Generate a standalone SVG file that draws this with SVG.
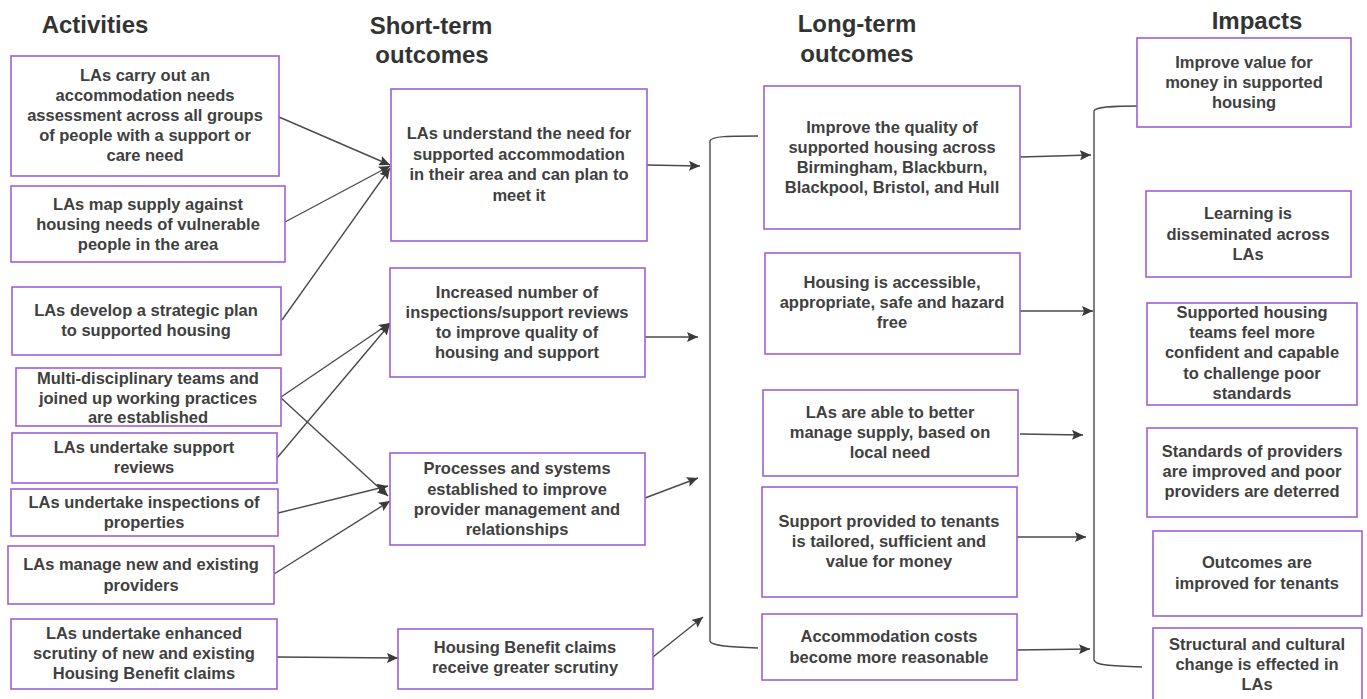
<svg xmlns="http://www.w3.org/2000/svg" width="1367" height="699" viewBox="0 0 1367 699">
<defs>
<marker id="ah" markerUnits="userSpaceOnUse" markerWidth="12" markerHeight="10" refX="11" refY="5" orient="auto">
<path d="M0,0 L11,5 L0,10 L2,5 Z" fill="#3a3a3a"/>
</marker>
<style>
.box{fill:#ffffff;stroke:#9e5fd8;stroke-width:1.6}
.t{font-family:"Liberation Sans",Arial,sans-serif;font-weight:bold;font-size:16.5px;fill:#404040;text-anchor:middle}
.h{font-family:"Liberation Sans",Arial,sans-serif;font-weight:bold;font-size:24px;fill:#333333;text-anchor:middle}
.c{fill:none;stroke:#4a4a4a;stroke-width:1.4}
.a{marker-end:url(#ah)}
</style>
</defs>
<rect width="1367" height="699" fill="#ffffff"/>

<g id="headings">
<text class="h" x="95" y="33">Activities</text>
<text class="h" x="431" y="34">Short-term</text>
<text class="h" x="432" y="63">outcomes</text>
<text class="h" x="857" y="32">Long-term</text>
<text class="h" x="857" y="62">outcomes</text>
<text class="h" x="1257" y="29">Impacts</text>
</g>

<g id="connectors">
<line class="c a" x1="279" y1="117" x2="390" y2="165"/>
<line class="c a" x1="285" y1="222" x2="390" y2="166"/>
<line class="c a" x1="282" y1="320" x2="390" y2="168"/>
<line class="c a" x1="281" y1="397" x2="390" y2="323"/>
<line class="c a" x1="277" y1="458" x2="390" y2="324"/>
<line class="c a" x1="281" y1="398" x2="388" y2="496"/>
<line class="c a" x1="278" y1="513" x2="388" y2="486"/>
<line class="c a" x1="274" y1="574" x2="390" y2="501"/>
<line class="c a" x1="277" y1="657" x2="398" y2="658"/>
<line class="c a" x1="647" y1="165" x2="700" y2="166"/>
<line class="c a" x1="645" y1="337" x2="698" y2="337"/>
<line class="c a" x1="645" y1="498" x2="698" y2="478"/>
<line class="c a" x1="653" y1="657" x2="703" y2="617"/>
<line class="c a" x1="1020" y1="157" x2="1091" y2="155"/>
<line class="c a" x1="1020" y1="311" x2="1093" y2="311"/>
<line class="c a" x1="1020" y1="434" x2="1083" y2="435"/>
<line class="c a" x1="1015" y1="537" x2="1086" y2="537"/>
<line class="c a" x1="1017" y1="650" x2="1090" y2="649"/>
<path class="c" d="M758,136 C730,136 711,136 710,141 L710,641 C711,646 730,647 758,648"/>
<path class="c" d="M1141,106 C1110,106 1095,107 1094,111 L1094,660 C1095,665 1110,666 1142,667"/>
</g>

<g id="act1"><rect class="box" x="11" y="56" width="268" height="120"/>
<text class="t" x="145" y="81">LAs carry out an</text><text class="t" x="145" y="101">accommodation needs</text><text class="t" x="145" y="121">assessment across all groups</text><text class="t" x="145" y="141">of people with a support or</text><text class="t" x="145" y="161">care need</text></g>
<g id="act2"><rect class="box" x="11" y="186" width="274" height="76"/>
<text class="t" x="148" y="210">LAs map supply against</text><text class="t" x="148" y="230">housing needs of vulnerable</text><text class="t" x="148" y="250">people in the area</text></g>
<g id="act3"><rect class="box" x="12" y="287" width="269" height="68"/>
<text class="t" x="146" y="316">LAs develop a strategic plan</text><text class="t" x="146" y="336">to supported housing</text></g>
<g id="act4"><rect class="box" x="16" y="368" width="265" height="58"/>
<text class="t" x="148" y="384">Multi-disciplinary teams and</text><text class="t" x="148" y="404">joined up working practices</text><text class="t" x="148" y="423">are established</text></g>
<g id="act5"><rect class="box" x="12" y="433" width="265" height="50"/>
<text class="t" x="144" y="453">LAs undertake support</text><text class="t" x="144" y="473">reviews</text></g>
<g id="act6"><rect class="box" x="11" y="489" width="267" height="47"/>
<text class="t" x="144" y="508">LAs undertake inspections of</text><text class="t" x="144" y="528">properties</text></g>
<g id="act7"><rect class="box" x="8" y="546" width="266" height="58"/>
<text class="t" x="141" y="570">LAs manage new and existing</text><text class="t" x="141" y="591">providers</text></g>
<g id="act8"><rect class="box" x="11" y="619" width="266" height="70"/>
<text class="t" x="144" y="639">LAs undertake enhanced</text><text class="t" x="144" y="659">scrutiny of new and existing</text><text class="t" x="144" y="679">Housing Benefit claims</text></g>

<g id="st1"><rect class="box" x="391" y="89" width="256" height="152"/>
<text class="t" x="519" y="139">LAs understand the need for</text><text class="t" x="519" y="160">supported accommodation</text><text class="t" x="519" y="180">in their area and can plan to</text><text class="t" x="519" y="201">meet it</text></g>
<g id="st2"><rect class="box" x="390" y="268" width="255" height="109"/>
<text class="t" x="517" y="298">Increased number of</text><text class="t" x="517" y="318">inspections/support reviews</text><text class="t" x="517" y="338">to improve quality of</text><text class="t" x="517" y="358">housing and support</text></g>
<g id="st3"><rect class="box" x="390" y="453" width="255" height="92"/>
<text class="t" x="517" y="474">Processes and systems</text><text class="t" x="517" y="495">established to improve</text><text class="t" x="517" y="515">provider management and</text><text class="t" x="517" y="535">relationships</text></g>
<g id="st4"><rect class="box" x="398" y="629" width="255" height="60"/>
<text class="t" x="525" y="653">Housing Benefit claims</text><text class="t" x="525" y="673">receive greater scrutiny</text></g>

<g id="lt1"><rect class="box" x="764" y="86" width="256" height="143"/>
<text class="t" x="892" y="133">Improve the quality of</text><text class="t" x="892" y="153">supported housing across</text><text class="t" x="892" y="173">Birmingham, Blackburn,</text><text class="t" x="892" y="193">Blackpool, Bristol, and Hull</text></g>
<g id="lt2"><rect class="box" x="765" y="253" width="255" height="101"/>
<text class="t" x="892" y="288">Housing is accessible,</text><text class="t" x="892" y="308">appropriate, safe and hazard</text><text class="t" x="892" y="328">free</text></g>
<g id="lt3"><rect class="box" x="763" y="390" width="255" height="86"/>
<text class="t" x="890" y="418">LAs are able to better</text><text class="t" x="890" y="438">manage supply, based on</text><text class="t" x="890" y="458">local need</text></g>
<g id="lt4"><rect class="box" x="762" y="487" width="255" height="110"/>
<text class="t" x="889" y="527">Support provided to tenants</text><text class="t" x="889" y="547">is tailored, sufficient and</text><text class="t" x="889" y="567">value for money</text></g>
<g id="lt5"><rect class="box" x="762" y="614" width="255" height="66"/>
<text class="t" x="889" y="642">Accommodation costs</text><text class="t" x="889" y="663">become more reasonable</text></g>

<g id="im1"><rect class="box" x="1137" y="38" width="214" height="89"/>
<text class="t" x="1244" y="68">Improve value for</text><text class="t" x="1244" y="88">money in supported</text><text class="t" x="1244" y="108">housing</text></g>
<g id="im2"><rect class="box" x="1146" y="191" width="205" height="86"/>
<text class="t" x="1248" y="219">Learning is</text><text class="t" x="1248" y="240">disseminated across</text><text class="t" x="1248" y="260">LAs</text></g>
<g id="im3"><rect class="box" x="1147" y="303" width="210" height="102"/>
<text class="t" x="1252" y="318">Supported housing</text><text class="t" x="1252" y="338">teams feel more</text><text class="t" x="1252" y="358">confident and capable</text><text class="t" x="1252" y="379">to challenge poor</text><text class="t" x="1252" y="399">standards</text></g>
<g id="im4"><rect class="box" x="1147" y="428" width="210" height="89"/>
<text class="t" x="1252" y="457">Standards of providers</text><text class="t" x="1252" y="477">are improved and poor</text><text class="t" x="1252" y="497">providers are deterred</text></g>
<g id="im5"><rect class="box" x="1153" y="531" width="209" height="85"/>
<text class="t" x="1257" y="568">Outcomes are</text><text class="t" x="1257" y="589">improved for tenants</text></g>
<g id="im6"><rect class="box" x="1153" y="628" width="209" height="75"/>
<text class="t" x="1257" y="650">Structural and cultural</text><text class="t" x="1257" y="670">change is effected in</text><text class="t" x="1257" y="690">LAs</text></g>
</svg>
